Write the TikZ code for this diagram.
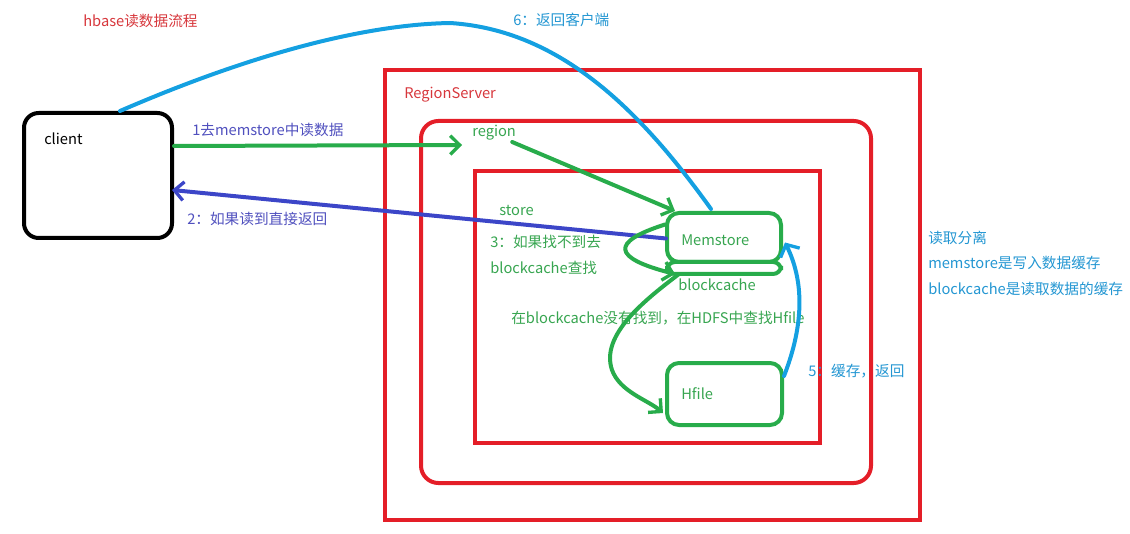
\documentclass[tikz,border=0pt]{standalone}
\usepackage{fontspec}
\setmainfont{Noto Sans CJK SC}
\usetikzlibrary{arrows.meta,fit,calc}
\definecolor{pred}{RGB}{228,30,40}
\definecolor{pgreen}{RGB}{40,172,75}
\definecolor{plblue}{RGB}{20,160,225}
\definecolor{pdblue}{RGB}{60,70,200}
\definecolor{tred}{RGB}{215,55,60}
\definecolor{tgreen}{RGB}{55,165,80}
\definecolor{tblue}{RGB}{35,150,210}
\definecolor{tpurple}{RGB}{80,80,190}
\tikzset{
  box/.style={draw, line width=3pt, inner sep=0pt},
  redbox/.style={box, draw=pred},
  greenbox/.style={box, draw=pgreen, rounded corners=9pt},
  lbl/.style={anchor=west, inner sep=0pt},
  barb/.style={-{Straight Barb[length=7pt,width=14pt,line width=2.5pt]}},
  garrow/.style={draw=pgreen, line width=3pt, line cap=round, barb},
  barrow/.style={draw=plblue, line width=3pt, line cap=round},
  darrow/.style={draw=pdblue, line width=3pt, line cap=round, barb},
}
\begin{document}
\begin{tikzpicture}[x=0.75pt,y=-0.75pt,font=\fontsize{11}{13}\selectfont]
\useasboundingbox (0,0) rectangle (1130,534);
% boxes
\node[box, draw=black, rounded corners=11pt, fit={(24,113)(172,238)}] (client) {};
\node[redbox, fit={(385,70)(920,520)}] (rs) {};
\node[redbox, rounded corners=13pt, fit={(421,121)(871,483)}] (region) {};
\node[redbox, fit={(475,171)(820,443)}] (store) {};
\node[greenbox, fit={(667,262)(781,274)}, rounded corners=6pt] (bc) {};
\node[greenbox, fit={(667,213)(781,262)}] (mem) {};
\node[greenbox, fit={(667,363)(782,425)}] (hfile) {};
% labels
\node[lbl, text=tred] (title) at (83,21) {hbase读数据流程};
\node[lbl, text=tblue] (l6) at (513,20) {6：返回客户端};
\node[lbl, text=black] (clientlbl) at (44,139) {client};
\node[lbl, text=tred] (rslbl) at (404,95) {RegionServer};
\node[lbl, text=tgreen] (regionlbl) at (472,133) {region};
\node[lbl, text=tgreen] (storelbl) at (499,210) {store};
\node[lbl, text=tgreen] (memlbl) at (681,240) {Memstore};
\node[lbl, text=tgreen] (bclbl) at (678,285) {blockcache};
\node[lbl, text=tgreen] (hflbl) at (681,394) {Hfile};
\node[lbl, text=tpurple] (l1) at (192,130) {1去memstore中读数据};
\node[lbl, text=tpurple] (l2) at (187,219) {2：如果读到直接返回};
\node[lbl, text=tgreen] (l3a) at (490,242) {3：如果找不到去};
\node[lbl, text=tgreen] (l3b) at (490,268) {blockcache查找};
\node[lbl, text=tgreen] (l4) at (511,318) {在blockcache没有找到，在HDFS中查找Hfile};
\node[lbl, text=tblue] (l5) at (808,371) {5：缓存，返回};
\node[lbl, text=tblue] (n1) at (928,238) {读取分离};
\node[lbl, text=tblue] (n2) at (928,263) {memstore是写入数据缓存};
\node[lbl, text=tblue] (n3) at (928,289) {blockcache是读取数据的缓存};
% connectors
\coordinate (c1s) at ($(client.north east)+(0,35)$);
\coordinate (c1e) at ($(regionlbl.west)+(-10,12)$);
\draw[garrow] (c1s) -- (c1e);
\draw[garrow] ($(regionlbl.east)+(-4,9)$) -- ($(mem.north west)+(10,0)$);
\draw[darrow] ($(mem.west)+(1,1)$) -- ($(client.north east)+(-2,79)$);
\draw[garrow] ($(mem.west)+(0,-13)$) .. controls (610,242) and (612,258) .. ($(bc.south west)+(10,-2)$);
\draw[garrow] ($(bc.south west)+(14,-2)$) .. controls (645,300) and (600,335) .. (612,370)
   .. controls (620,392) and (648,400) .. ($(hfile.west)+(-2,19)$);
\draw[barrow, -{Straight Barb[length=7pt,width=16pt,line width=2.5pt]}] ($(hfile.north east)+(0,15)$) .. controls (802,330) and (806,285) .. ($(mem.east)+(2,5)$);
\draw[barrow] ($(mem.north west)+(46,-2)$) .. controls (640,110) and (560,30) .. (450,23)
   .. controls (340,25) and (210,72) .. ($(client.north)+(22,0)$);
\end{tikzpicture}
\end{document}
